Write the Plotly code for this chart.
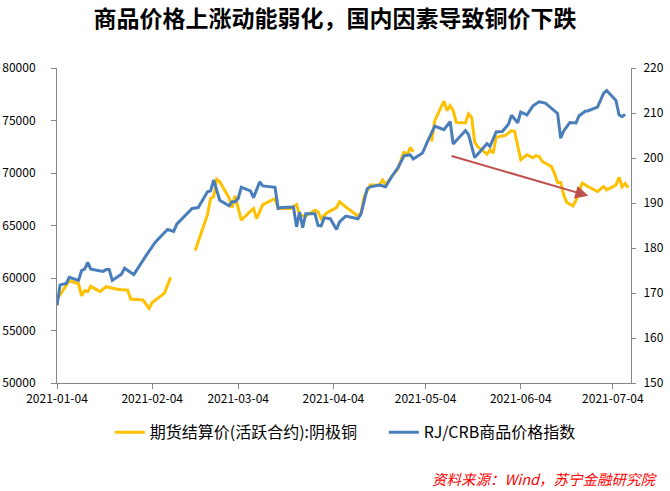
import pandas as pd
import plotly.graph_objects as go

BASE = pd.Timestamp("2021-01-04")

# Copper futures settlement price (left axis); None = holiday gap
cu_days = [0, 2, 4, 7, 8, 9, 10, 11, 14, 16, 20, 23, 24, 28, 30, 31, 35, 37,
           41,
           45, 49, 50, 51, 52, 53, 56, 57, 58, 60, 63, 64, 65, 67, 71, 72, 76, 78,
           79, 81, 84, 85, 86, 88, 91, 92, 94, 98, 99, 100, 102, 105, 106, 107,
           109, 111, 113, 114, 115, 116,
           119,
           122, 123, 126, 127, 128, 129, 130, 133, 134, 135, 136, 137, 140, 141,
           142, 143, 146, 148, 149, 151, 153, 155, 156, 157, 158, 160, 161, 162,
           163, 164, 165, 166, 168, 169, 171, 173, 176, 178, 179, 182, 183, 184,
           185, 186]
cu_vals = [57950, 58900, 59750, 59450, 58300, 58800, 58700, 59200, 58700, 59170,
           58900, 58850, 58000, 57900, 57100, 57670, 58560, 60060,
           None,
           62620, 66035, 67570, 67730, 69400, 69170, 67650, 66710, 67830, 65500,
           66360, 66610, 65650, 66990, 67570, 66610, 66610, 66990,
           65980, 65910, 66460, 66300, 65650, 66230, 66710, 67250, 66770, 65910,
           66200, 67730, 68850, 68850, 69330, 68900,
           69650, 70400, 72040, 71630, 72430, 72040,
           None,
           73000, 74980, 76840, 75940, 76420, 75940, 74820, 74760, 75620, 75300,
           72940, 72520, 71800, 72200,
           71880, 73400, 73580, 74030, 73960, 71250, 71730, 71450, 71660, 71570,
           71100, 70770, 70610, 69960,
           69100, 69100, 67900, 67200, 66860, 67400, 69040, 68690, 68240, 68720,
           68400, 68850, 69600, 68690,
           69010, 68590]

# RJ/CRB commodity price index (right axis)
crb_days = [0, 1, 3, 4, 7, 8, 9, 10, 11, 15, 16, 17, 18, 21, 22, 25, 29, 32, 36,
            38, 39, 44, 46, 49, 50, 51, 53, 56, 57, 58, 59, 60, 63, 64, 66, 67,
            71, 72, 73, 77, 78, 79, 80, 81, 84, 85, 86, 87, 89, 91, 92, 94, 98,
            99, 101, 102, 105, 107, 109, 111, 113, 115, 116, 119, 121, 123, 126,
            128, 129, 133, 134, 136, 138, 140, 141, 143, 145, 147, 148, 150, 151,
            153, 155, 157, 159, 162, 163, 164, 165, 167, 169, 170, 172, 173, 176,
            178, 179, 182, 183, 184, 185]
crb_vals = [167.2, 171.8, 172.1, 173.5, 172.8, 175.0, 175.3, 176.8, 175.3, 174.8,
            175.2, 175.2, 172.8, 174.2, 175.5, 174.1, 178.3, 181.3, 184.1,
            183.7, 185.3, 188.8, 189.0, 192.5, 192.7, 195.1, 190.6, 189.4, 190.3,
            190.3, 191.0, 193.5, 192.7, 191.2, 194.7, 193.8,
            193.5, 188.8, 189.0, 189.1, 184.7, 188.0, 184.5, 187.6, 187.6, 185.0,
            184.9, 186.7, 186.5, 184.1, 185.8, 187.1, 186.5,
            187.6, 193.2, 193.6, 194.0, 193.6, 195.9, 197.8, 200.5, 200.7, 199.8,
            201.1, 204.2, 207.1, 206.3,
            208.1, 203.1, 206.1, 205.2, 200.1, 201.6, 203.2, 202.6, 205.8, 205.9,
            207.5, 209.5, 207.8, 210.2,
            209.6, 211.6, 212.5, 212.2, 210.4, 209.9, 204.4, 206.0, 207.9, 207.8,
            209.4, 210.4, 210.5, 211.3,
            214.4, 215.0, 212.8, 209.6, 209.2, 209.7]

tick_dates = ["2021-01-04", "2021-02-04", "2021-03-04", "2021-04-04",
              "2021-05-04", "2021-06-04", "2021-07-04"]
left_ticks = [50000, 55000, 60000, 65000, 70000, 75000, 80000]
right_ticks = [150, 160, 170, 180, 190, 200, 210, 220]

# red trend arrow (left-axis units)
arrow_start = ("2021-05-12", 71660)
arrow_end = ("2021-06-26", 67830)

cu_x = [BASE + pd.Timedelta(days=d) for d in cu_days]
crb_x = [BASE + pd.Timedelta(days=d) for d in crb_days]

FONT = "Noto Sans CJK SC, Liberation Sans, sans-serif"
AXIS_COL = "#868686"

fig = go.Figure()
fig.add_trace(go.Scatter(
    x=cu_x, y=cu_vals, mode="lines", name="期货结算价(活跃合约):阴极铜",
    line=dict(color="#FFC000", width=3), connectgaps=False, yaxis="y"))
fig.add_trace(go.Scatter(
    x=crb_x, y=crb_vals, mode="lines", name="RJ/CRB商品价格指数",
    line=dict(color="#4A7EBB", width=3), yaxis="y2"))

fig.add_annotation(
    x=arrow_end[0], y=arrow_end[1], ax=arrow_start[0], ay=arrow_start[1],
    xref="x", yref="y", axref="x", ayref="y", text="", showarrow=True,
    arrowhead=2, arrowsize=1.3, arrowwidth=2, arrowcolor="#C0504D")

fig.add_annotation(
    text="<i>资料来源：Wind，苏宁金融研究院</i>", xref="paper", yref="paper",
    x=1.0505, y=-0.3025, xanchor="right", yanchor="middle", showarrow=False,
    font=dict(family=FONT, size=14.5, color="#FF0000"))

fig.update_layout(
    width=670, height=491,
    margin=dict(l=57, r=39, t=68, b=108, autoexpand=False),
    paper_bgcolor="white", plot_bgcolor="white",
    font=dict(family=FONT, size=12, color="#000000"),
    title=dict(text="<b>商品价格上涨动能弱化，国内因素导致铜价下跌</b>",
               x=0.5, xanchor="center", y=0.961, yanchor="middle",
               font=dict(family=FONT, size=23, color="#000000")),
    showlegend=True,
    legend=dict(orientation="h", x=0.092, xanchor="left", y=-0.1565,
                yanchor="middle", font=dict(family=FONT, size=16),
                itemwidth=30, entrywidth=229, bgcolor="rgba(0,0,0,0)"),
    xaxis=dict(
        type="date",
        range=[BASE, BASE + pd.Timedelta(days=186.9)],
        tickvals=tick_dates, ticktext=tick_dates,
        showgrid=False, zeroline=False,
        showline=True, linecolor=AXIS_COL, linewidth=1,
        ticks="outside", ticklen=5, tickcolor=AXIS_COL,
        tickfont=dict(size=12)),
    yaxis=dict(
        range=[50000, 80000], tickvals=left_ticks, tickformat="d",
        showgrid=False, zeroline=False,
        showline=True, linecolor=AXIS_COL, linewidth=1,
        ticks="outside", ticklen=5, tickcolor=AXIS_COL,
        ticklabelstandoff=13, tickfont=dict(size=12)),
    yaxis2=dict(
        range=[150, 220], tickvals=right_ticks, tickformat="d",
        overlaying="y", side="right",
        showgrid=False, zeroline=False,
        showline=True, linecolor=AXIS_COL, linewidth=1,
        ticks="outside", ticklen=4, tickcolor=AXIS_COL,
        ticklabelstandoff=5, tickfont=dict(size=12)),
)

fig.write_html("out.html", config={"displayModeBar": False},
               post_script="document.body.style.margin='0';")
